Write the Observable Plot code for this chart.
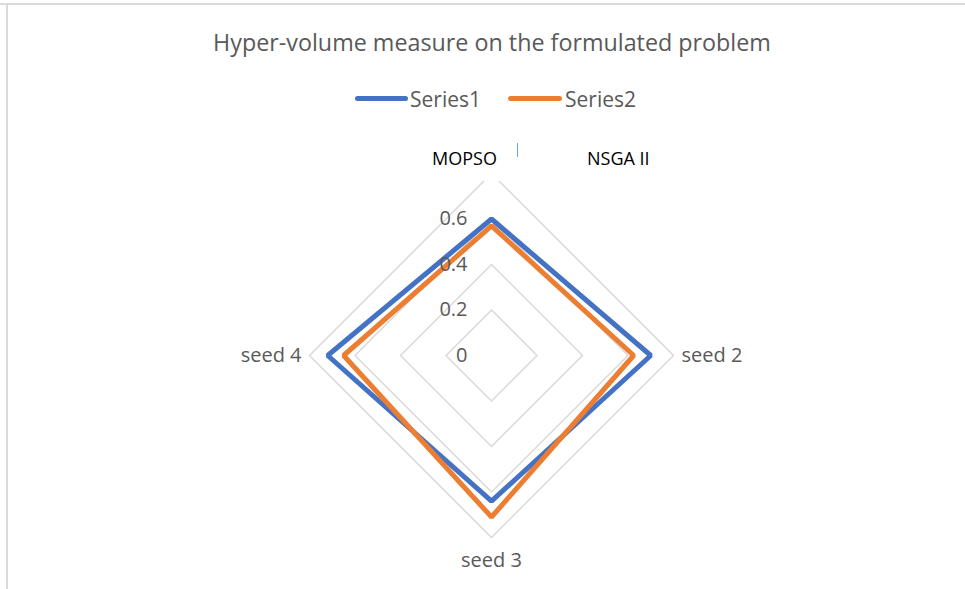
<!DOCTYPE html>
<html>
<head>
<meta charset="utf-8">
<script src="https://cdn.jsdelivr.net/npm/d3@7"></script>
<script src="https://cdn.jsdelivr.net/npm/@observablehq/plot@0.6"></script>
<style>
  html, body { margin: 0; padding: 0; background: #fff; }
  #wrap { position: relative; width: 965px; height: 589px; overflow: hidden; background: #fff; font-family: "Open Sans", sans-serif; }
  .abs { position: absolute; white-space: nowrap; }
  #title { left: 492px; top: 27px; transform: translateX(-50%); font-size: 23.3px; line-height: 30px; color: #595959; }
  .leg { top: 86px; font-size: 21px; line-height: 26px; color: #595959; }
  .sw { position: absolute; height: 5px; border-radius: 3px; top: 96px; }
  .box { background: #fff; font-size: 18px; color: #000; line-height: 46px; }
  #chart { position: absolute; left: 0; top: 120px; }
  #borderTop { position: absolute; left: 0; top: 3px; width: 965px; height: 2px; background: #d9d9d9; }
  #borderLeft { position: absolute; left: 6px; top: 3px; width: 2px; height: 586px; background: #d9d9d9; }
</style>
</head>
<body>
<div id="wrap">
  <div id="borderTop"></div>
  <div id="borderLeft"></div>
  <div id="title" class="abs">Hyper-volume measure on the formulated problem</div>
  <div class="sw" style="left:355px;width:53px;background:#4472C4"></div>
  <div class="abs leg" style="left:410px">Series1</div>
  <div class="sw" style="left:508px;width:54px;background:#ED7D31"></div>
  <div class="abs leg" style="left:565px">Series2</div>
  <div id="chart"></div>
  <div class="abs box" style="left:420px;top:135px;width:97px;height:46px;"><span style="position:absolute;left:12px;">MOPSO</span></div>
  <div class="abs box" style="left:521px;top:135px;width:144px;height:46px;"><span style="position:absolute;left:66px;">NSGA II</span></div>
</div>
<script>
const categories = ["seed 1", "seed 2", "seed 3", "seed 4"];
const series1 = [0.60, 0.70, 0.64, 0.72];
const series2 = [0.57, 0.625, 0.71, 0.65];
const gridLevels = [0.2, 0.4, 0.6, 0.8];
const tickLabels = [0, 0.2, 0.4, 0.6];
const seriesNames = ["Series1", "Series2"];
const seriesColors = ["#4472C4", "#ED7D31"];
const axisMax = 0.8;

const angle = i => i * 2 * Math.PI / categories.length;
const px = (v, i) => v * Math.sin(angle(i));
const py = (v, i) => v * Math.cos(angle(i));

const rows = [];
[series1, series2].forEach((vals, s) => {
  vals.forEach((v, i) => rows.push({series: seriesNames[s], cat: categories[i], x: px(v, i), y: py(v, i)}));
});
const grid = [];
gridLevels.forEach(g => categories.forEach((c, i) => grid.push({level: g, x: px(g, i), y: py(g, i)})));
const ticks = tickLabels.map(t => ({t, x: 0, y: t}));
const catPts = categories.map((c, i) => ({c, i, x: px(axisMax, i), y: py(axisMax, i)}));

const W = 965, H = 469, cx = 491, cy = 235, k = 227.5;

const plot = Plot.plot({
  width: W, height: H,
  margin: 0,
  x: {domain: [-cx / k, (W - cx) / k], axis: null},
  y: {domain: [-(H - cy) / k, cy / k], axis: null},
  color: {domain: seriesNames, range: seriesColors},
  style: {fontFamily: "Open Sans, sans-serif", overflow: "visible", background: "transparent"},
  marks: [
    Plot.line(grid, {x: "x", y: "y", z: "level", curve: "linear-closed", stroke: "#d9d9d9", strokeWidth: 1.5}),
    Plot.line(rows, {x: "x", y: "y", z: "series", stroke: "series", curve: "linear-closed", strokeWidth: 5, strokeLinejoin: "miter", strokeLinecap: "butt"}),
    Plot.text(ticks, {x: "x", y: "y", text: d => String(d.t), dx: -24, textAnchor: "end", fontSize: 20, fill: "#595959"}),
    Plot.text(catPts.filter(d => d.i === 0), {x: "x", y: "y", text: "c", dy: -23, fontSize: 20, fill: "#595959"}),
    Plot.text(catPts.filter(d => d.i === 1), {x: "x", y: "y", text: "c", dx: 8, textAnchor: "start", fontSize: 20, fill: "#595959"}),
    Plot.text(catPts.filter(d => d.i === 2), {x: "x", y: "y", text: "c", dy: 23, fontSize: 20, fill: "#595959"}),
    Plot.text(catPts.filter(d => d.i === 3), {x: "x", y: "y", text: "c", dx: -8, textAnchor: "end", fontSize: 20, fill: "#595959"})
  ]
});
document.getElementById("chart").appendChild(plot);
</script>
</body>
</html>
